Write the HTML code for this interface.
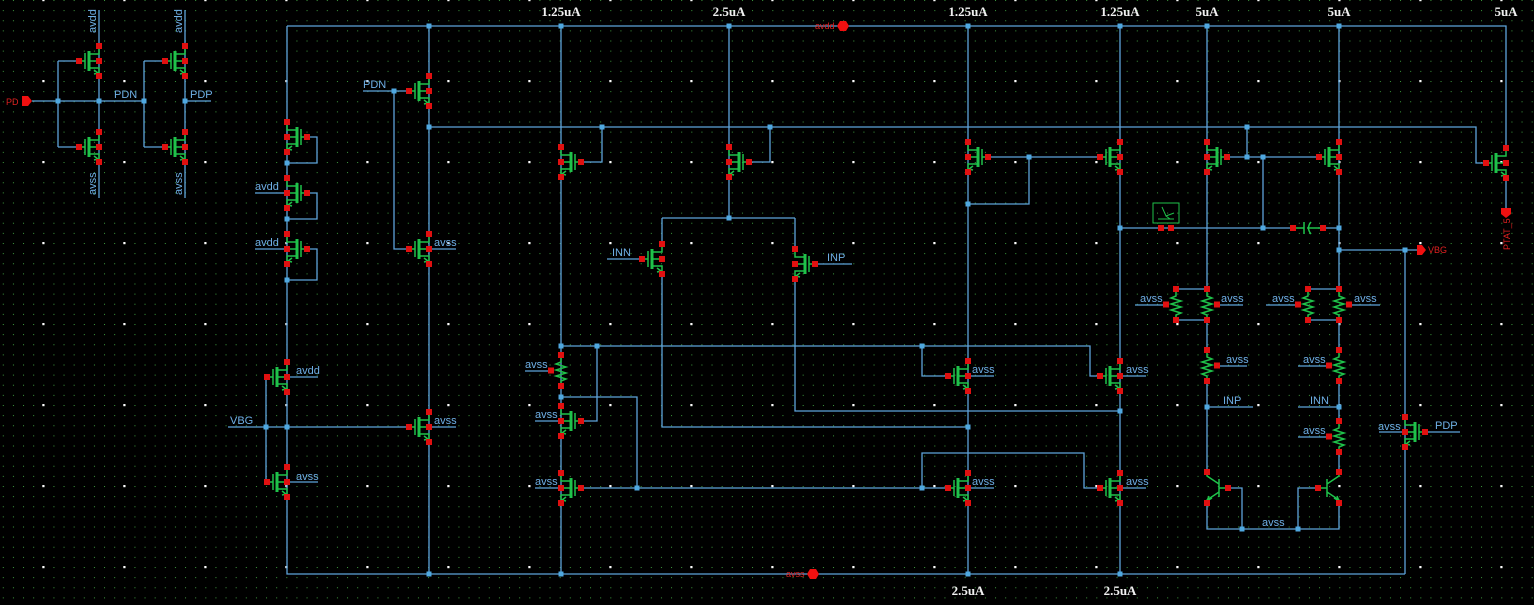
<!DOCTYPE html>
<html><head><meta charset="utf-8"><style>
html,body{margin:0;padding:0;background:#000;}
svg{display:block}
.w{stroke:#5ea3da;stroke-width:1.3;fill:none}
.g{stroke:#1fc24a;fill:none;stroke-width:1.5}
.lb{font-family:"Liberation Sans",sans-serif;font-size:11px;fill:#6fb0e6}
.tl{font-family:"Liberation Serif",serif;font-weight:bold;font-size:13px;fill:#f0f0f0;text-anchor:middle}
.rl{font-family:"Liberation Sans",sans-serif;font-size:9px;fill:#e02020}
</style></head><body>
<svg width="1534" height="605" viewBox="0 0 1534 605" xmlns="http://www.w3.org/2000/svg">
<defs>
<pattern id="gd" patternUnits="userSpaceOnUse" x="43.3" y="0" width="10.125" height="10.125"><rect x="0" y="0" width="1" height="1" fill="#3d9a3d"/></pattern>
<pattern id="wd" patternUnits="userSpaceOnUse" x="42.3" y="-1" width="81" height="81"><rect x="0" y="0" width="2.2" height="2.2" fill="#fff"/></pattern>
<g id="m">
<path class="g" d="M-20 0H-14M-14 -8V8" />
<path d="M-10 -10V10" stroke="#1fc24a" stroke-width="3"/>
<path class="g" d="M-10 -7H0V-13M-10 7H0V13M-10 0H0M-5 9l4 3l-4 1"/>
<rect x="-3" y="-18" width="6" height="6" fill="#e01010"/>
<rect x="-3" y="-3" width="6" height="6" fill="#e01010"/>
<rect x="-3" y="12" width="6" height="6" fill="#e01010"/>
<rect x="-23" y="-3" width="6" height="6" fill="#e01010"/>
</g>
<g id="r">
<path class="g" d="M0 3V7L-5 9L5 12L-5 15L5 18L-5 21L5 24L0 26V28"/>
<rect x="-3" y="-3" width="6" height="6" fill="#e01010"/>
<rect x="-3" y="28" width="6" height="6" fill="#e01010"/>
<rect x="-13" y="12.5" width="6" height="6" fill="#e01010"/>
</g>
<g id="q">
<path class="g" d="M-21 0H-12M-12 -9V9M-12 -4L0 -12V-14M-12 4L0 12V14M-5 10l5 3l-2-5"/>
<rect x="-3" y="-19" width="6" height="6" fill="#e01010"/>
<rect x="-3" y="12" width="6" height="6" fill="#e01010"/>
<rect x="-24" y="-3" width="6" height="6" fill="#e01010"/>
</g>
<rect id="j" x="-2.5" y="-2.5" width="5" height="5" fill="#4fa8e0"/>
</defs>
<rect width="1534" height="605" fill="#000"/>
<rect width="1534" height="605" fill="url(#gd)"/>
<rect width="1534" height="605" fill="url(#wd)"/>

<path class="w" d="M99 10V198M185 10V198M32 101H144M185 101H211M58 61V147M58 61H79M58 147H79M144 61V147M144 61H165M144 147H165
M287 26H1506V148M1506 178V208M287 26V574H1405M1405 250V574
M307 137H317V163H287M307 193H317V219H287M307 249H317V280H287M255 193H287M255 249H287
M287 377H318M287 482H318M266 377V482M228 427H409
M429 26V574M363 91H409M394 91V249H409M429 249H456M429 427H456
M429 127H1476V163H1486
M561 26V574M581 162H602V127M729 26V218M749 162H770V127M662 218H795M662 218V244M795 218V249M607 259H642M815 264H852M662 274V427H968M795 279V411H1120
M968 26V574M988 157H1098M1029 157V204H968
M1120 26V574M1120 228H1339M1207 26V289M1227 157H1318M1247 157V127M1263 157V228
M1339 26V289M1339 250H1417
M1176 289H1207M1176 320H1207M1135 305H1166M1216 305H1243M1308 289H1339M1308 320H1339M1266 305H1298M1349 305H1380
M1207 320V350M1207 381V472M1207 407H1253M1216 366H1247M1207 503V529H1339V503M1228 488H1242V529M1318 488H1298V529
M1339 320V350M1339 381V421M1339 452V472M1298 407H1339M1298 366H1329M1298 437H1329
M1379 432H1405M1425 432H1460
M525 371H551M561 346H1090V376H1100M597 346V421H581M561 397H637V488M581 488H922V453H1084V488H1100M922 488H948M922 346V376H948M535 421H561M535 488H561M968 376H994M968 488H994M1120 376H1146M1120 488H1146"/>

<use href="#m" transform="translate(99,61)"/>
<use href="#m" transform="translate(99,147)"/>
<use href="#m" transform="translate(185,61)"/>
<use href="#m" transform="translate(185,147)"/>
<use href="#m" transform="translate(287,137) scale(-1,1)"/>
<use href="#m" transform="translate(287,193) scale(-1,1)"/>
<use href="#m" transform="translate(287,249) scale(-1,1)"/>
<use href="#m" transform="translate(287,377)"/>
<use href="#m" transform="translate(287,482)"/>
<use href="#m" transform="translate(429,91)"/>
<use href="#m" transform="translate(429,249)"/>
<use href="#m" transform="translate(429,427)"/>
<use href="#m" transform="translate(561,162) scale(-1,1)"/>
<use href="#m" transform="translate(729,162) scale(-1,1)"/>
<use href="#m" transform="translate(662,259)"/>
<use href="#m" transform="translate(795,264) scale(-1,1)"/>
<use href="#m" transform="translate(561,421) scale(-1,1)"/>
<use href="#m" transform="translate(561,488) scale(-1,1)"/>
<use href="#m" transform="translate(968,157) scale(-1,1)"/>
<use href="#m" transform="translate(1120,157)"/>
<use href="#m" transform="translate(1207,157) scale(-1,1)"/>
<use href="#m" transform="translate(1339,157)"/>
<use href="#m" transform="translate(1506,163)"/>
<use href="#m" transform="translate(968,376)"/>
<use href="#m" transform="translate(968,488)"/>
<use href="#m" transform="translate(1120,376)"/>
<use href="#m" transform="translate(1120,488)"/>
<use href="#m" transform="translate(1405,432) scale(-1,1)"/>
<use href="#r" transform="translate(1176,289)"/>
<use href="#r" transform="translate(1207,289) scale(-1,1)"/>
<use href="#r" transform="translate(1308,289)"/>
<use href="#r" transform="translate(1339,289) scale(-1,1)"/>
<use href="#r" transform="translate(1207,350) scale(-1,1)"/>
<use href="#r" transform="translate(1339,350)"/>
<use href="#r" transform="translate(1339,421)"/>
<use href="#r" transform="translate(561,355)"/>
<use href="#q" transform="translate(1207,488) scale(-1,1)"/>
<use href="#q" transform="translate(1339,488)"/>
<rect x="1296" y="225" width="22" height="6" fill="#000"/>
<path class="g" d="M1296 228H1304M1304 222V234M1311 222Q1306 228 1311 234M1307 228H1320"/>
<rect x="1290" y="225" width="6" height="6" fill="#e01010"/>
<rect x="1320" y="225" width="6" height="6" fill="#e01010"/>
<rect x="1153" y="203" width="26" height="20" fill="none" stroke="#1fc24a" stroke-width="1"/>
<path d="M1158 219H1174M1162 207L1166 216L1174 213M1166 216L1170 219" stroke="#1fc24a" stroke-width="1" fill="none"/>
<rect x="1158" y="225" width="6" height="6" fill="#e01010"/>
<rect x="1168" y="225" width="6" height="6" fill="#e01010"/>

<g>
<use href="#j" x="58" y="101"/><use href="#j" x="99" y="101"/><use href="#j" x="144" y="101"/><use href="#j" x="185" y="101"/>
<use href="#j" x="429" y="26"/><use href="#j" x="561" y="26"/><use href="#j" x="729" y="26"/><use href="#j" x="968" y="26"/><use href="#j" x="1120" y="26"/><use href="#j" x="1207" y="26"/><use href="#j" x="1339" y="26"/>
<use href="#j" x="287" y="163"/><use href="#j" x="287" y="219"/><use href="#j" x="287" y="280"/><use href="#j" x="266" y="427"/><use href="#j" x="287" y="427"/>
<use href="#j" x="394" y="91"/><use href="#j" x="429" y="127"/><use href="#j" x="602" y="127"/><use href="#j" x="770" y="127"/><use href="#j" x="729" y="218"/>
<use href="#j" x="1029" y="157"/><use href="#j" x="968" y="204"/><use href="#j" x="1247" y="127"/><use href="#j" x="1247" y="157"/><use href="#j" x="1263" y="157"/><use href="#j" x="1263" y="228"/>
<use href="#j" x="1120" y="228"/><use href="#j" x="1339" y="228"/><use href="#j" x="1339" y="250"/><use href="#j" x="1405" y="250"/>
<use href="#j" x="561" y="346"/><use href="#j" x="597" y="346"/><use href="#j" x="561" y="397"/><use href="#j" x="637" y="488"/><use href="#j" x="922" y="346"/><use href="#j" x="922" y="488"/>
<use href="#j" x="968" y="427"/><use href="#j" x="1120" y="411"/><use href="#j" x="1207" y="407"/><use href="#j" x="1339" y="407"/><use href="#j" x="1242" y="529"/><use href="#j" x="1298" y="529"/>
<use href="#j" x="429" y="574"/><use href="#j" x="561" y="574"/><use href="#j" x="968" y="574"/><use href="#j" x="1120" y="574"/>
</g>

<path d="M22 96H28L32 101L28 106H22Z" fill="#f01010"/>
<path d="M837 26L840 21H846L849 26L846 31H840Z" fill="#f01010"/>
<path d="M807 574L810 569H816L819 574L816 579H810Z" fill="#f01010"/>
<path d="M1417 245H1422L1426 250L1422 255H1417Z" fill="#f01010"/>
<path d="M1501 208H1511V214L1506 218L1501 214Z" fill="#f01010"/>
<text class="rl" x="6" y="105">PD</text>
<text class="rl" x="815" y="29" font-size="7">avdd</text>
<text class="rl" x="786" y="577" font-size="7">avss</text>
<text class="rl" x="1428" y="253" font-size="8">VBG</text>
<text class="rl" transform="translate(1510,250) rotate(-90)" font-size="8">PTAT_5</text>

<text class="lb" transform="translate(96,33) rotate(-90)">avdd</text>
<text class="lb" transform="translate(96,195) rotate(-90)">avss</text>
<text class="lb" transform="translate(182,33) rotate(-90)">avdd</text>
<text class="lb" transform="translate(182,195) rotate(-90)">avss</text>
<text class="lb" x="114" y="98">PDN</text>
<text class="lb" x="190" y="98">PDP</text>
<text class="lb" x="255" y="190">avdd</text>
<text class="lb" x="255" y="246">avdd</text>
<text class="lb" x="296" y="374">avdd</text>
<text class="lb" x="296" y="480">avss</text>
<text class="lb" x="230" y="424">VBG</text>
<text class="lb" x="363" y="88">PDN</text>
<text class="lb" x="434" y="246">avss</text>
<text class="lb" x="434" y="424">avss</text>
<text class="lb" x="612" y="256">INN</text>
<text class="lb" x="827" y="261">INP</text>
<text class="lb" x="525" y="368">avss</text>
<text class="lb" x="535" y="418">avss</text>
<text class="lb" x="535" y="485">avss</text>
<text class="lb" x="972" y="373">avss</text>
<text class="lb" x="972" y="485">avss</text>
<text class="lb" x="1126" y="373">avss</text>
<text class="lb" x="1126" y="485">avss</text>
<text class="lb" x="1140" y="302">avss</text>
<text class="lb" x="1221" y="302">avss</text>
<text class="lb" x="1272" y="302">avss</text>
<text class="lb" x="1354" y="302">avss</text>
<text class="lb" x="1226" y="363">avss</text>
<text class="lb" x="1303" y="363">avss</text>
<text class="lb" x="1223" y="404">INP</text>
<text class="lb" x="1310" y="404">INN</text>
<text class="lb" x="1303" y="434">avss</text>
<text class="lb" x="1262" y="526">avss</text>
<text class="lb" x="1378" y="430">avss</text>
<text class="lb" x="1435" y="429">PDP</text>

<text class="tl" x="561" y="16">1.25uA</text>
<text class="tl" x="729" y="16">2.5uA</text>
<text class="tl" x="968" y="16">1.25uA</text>
<text class="tl" x="1120" y="16">1.25uA</text>
<text class="tl" x="1207" y="16">5uA</text>
<text class="tl" x="1339" y="16">5uA</text>
<text class="tl" x="1506" y="16">5uA</text>
<text class="tl" x="968" y="595">2.5uA</text>
<text class="tl" x="1120" y="595">2.5uA</text>
</svg>
</body></html>
